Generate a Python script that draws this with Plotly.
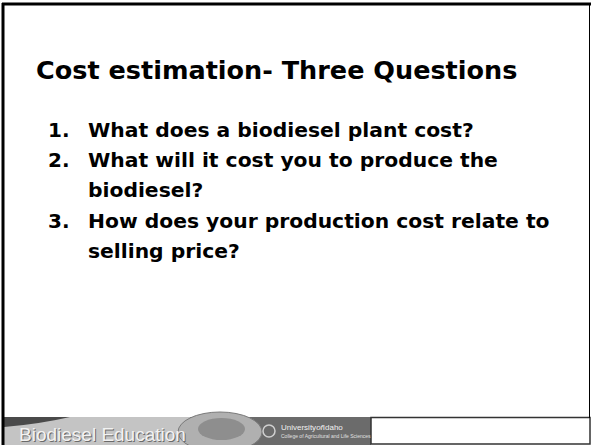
import plotly.graph_objects as go

# slide content
title = "Cost estimation- Three Questions"
item_nums = ["1.", "2.", "", "3.", ""]
item_lines = [
    "What does a biodiesel plant cost?",
    "What will it cost you to produce the",
    "biodiesel?",
    "How does your production cost relate to",
    "selling price?",
]
line_y = [130, 160, 190, 221, 251]
footer_text = "Biodiesel Education"
uni_text = "University<i>of</i>Idaho"
college_text = "College of Agricultural and Life Sciences"

W, H = 591, 445
font_main = "DejaVu Sans"

fig = go.Figure()

annotations = []
annotations.append(dict(x=34, y=70, text="<b>" + title + "</b>", xanchor="left", yanchor="middle",
                        font=dict(family=font_main, size=25.5, color="black")))
for num, txt, y in zip(item_nums, item_lines, line_y):
    if num:
        annotations.append(dict(x=46, y=y, text="<b>" + num + "</b>", xanchor="left", yanchor="middle",
                                font=dict(family=font_main, size=20, color="black")))
    annotations.append(dict(x=86, y=y, text="<b>" + txt + "</b>", xanchor="left", yanchor="middle",
                            font=dict(family=font_main, size=20.3, color="black")))

shapes = []
# footer banner
shapes.append(dict(type="rect", x0=4, x1=371, y0=417, y1=445, fillcolor="#6b6b6b", line=dict(width=0), layer="below"))
shapes.append(dict(type="rect", x0=4, x1=190, y0=417, y1=445, fillcolor="#c4c4c4", line=dict(width=0), layer="below"))
shapes.append(dict(type="path", path="M 4 417 L 70 417 Q 40 424 4 427 Z", fillcolor="#4a4a4a", line=dict(width=0), layer="below"))
shapes.append(dict(type="circle", x0=178, x1=262, y0=412, y1=452, fillcolor="#b0b0b0", line=dict(color="#7a7a7a", width=1), layer="below"))
shapes.append(dict(type="circle", x0=198, x1=245, y0=418, y1=440, fillcolor="#8e8e8e", line=dict(width=0), layer="below"))
shapes.append(dict(type="circle", x0=263, x1=275, y0=425, y1=437, fillcolor="rgba(0,0,0,0)", line=dict(color="#d0d0d0", width=1.5)))
# white box at bottom right
shapes.append(dict(type="rect", x0=371, x1=590, y0=417.5, y1=444, fillcolor="white", line=dict(color="#333333", width=1.5)))
# slide border
shapes.append(dict(type="line", x0=2, x1=W, y0=4, y1=4, line=dict(color="black", width=3)))
shapes.append(dict(type="line", x0=3, x1=3, y0=3, y1=H, line=dict(color="black", width=3)))
shapes.append(dict(type="line", x0=589.5, x1=589.5, y0=4, y1=418, line=dict(color="black", width=1)))

# footer texts (dark copy underneath gives the embossed look)
annotations.append(dict(x=18, y=435, text=footer_text, xanchor="left", yanchor="middle",
                        font=dict(family="Liberation Sans", size=19, color="#6a6a6a")))
annotations.append(dict(x=17, y=434, text=footer_text, xanchor="left", yanchor="middle",
                        font=dict(family="Liberation Sans", size=19, color="#f2f2f2")))
annotations.append(dict(x=279, y=427, text=uni_text, xanchor="left", yanchor="middle",
                        font=dict(family="Liberation Sans", size=8, color="#f0f0f0")))
annotations.append(dict(x=279, y=436, text=college_text, xanchor="left", yanchor="middle",
                        font=dict(family="Liberation Sans", size=5, color="#e0e0e0")))

for a in annotations:
    a.update(xref="x", yref="y", showarrow=False)

fig.update_layout(
    width=W, height=H,
    margin=dict(l=0, r=0, t=0, b=0),
    paper_bgcolor="white", plot_bgcolor="white",
    xaxis=dict(range=[0, W], visible=False, fixedrange=True),
    yaxis=dict(range=[H, 0], visible=False, fixedrange=True),
    shapes=shapes,
    annotations=annotations,
    showlegend=False,
)

fig.write_html("out.html", config=dict(displayModeBar=False),
               post_script="document.body.style.margin='0';document.body.style.overflow='hidden';")
